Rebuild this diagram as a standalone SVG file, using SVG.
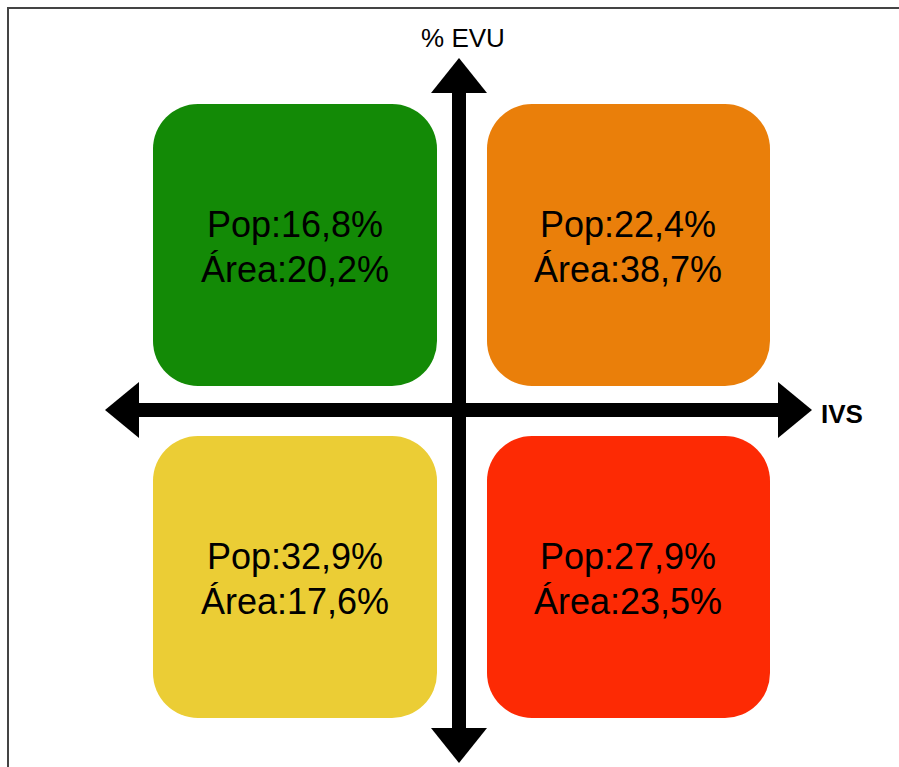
<svg xmlns="http://www.w3.org/2000/svg" width="899" height="767" viewBox="0 0 899 767">
<style>
.box{stroke:none}
.t{font-family:"Liberation Sans",Arial,sans-serif;font-size:36px;fill:#000;text-anchor:middle}
.ax{fill:#000}
.lbl{font-family:"Liberation Sans",Arial,sans-serif;fill:#000}
</style>
<rect x="0" y="0" width="899" height="767" fill="#fff"/>
<rect x="8" y="8" width="1000" height="900" fill="none" stroke="#444" stroke-width="2"/>
<g id="q-green">
<rect class="box" x="153" y="104" width="284" height="282" rx="45" fill="#138a06"/>
<text class="t" x="295" y="237">Pop:16,8%</text>
<text class="t" x="295" y="282">Área:20,2%</text>
</g>
<g id="q-orange">
<rect class="box" x="487" y="104" width="283" height="282" rx="45" fill="#ea7f0a"/>
<text class="t" x="628" y="237">Pop:22,4%</text>
<text class="t" x="628" y="282">Área:38,7%</text>
</g>
<g id="q-yellow">
<rect class="box" x="153" y="436" width="284" height="282" rx="45" fill="#ebcd35"/>
<text class="t" x="295" y="569">Pop:32,9%</text>
<text class="t" x="295" y="614">Área:17,6%</text>
</g>
<g id="q-red">
<rect class="box" x="487" y="436" width="283" height="282" rx="45" fill="#fd2a04"/>
<text class="t" x="628" y="569">Pop:27,9%</text>
<text class="t" x="628" y="614">Área:23,5%</text>
</g>
<g id="connectors">
<rect class="ax" x="452" y="90" width="14" height="641"/>
<polygon class="ax" points="459,58 487,93 431,93"/>
<polygon class="ax" points="459,763 487,728 431,728"/>
<rect class="ax" x="137" y="403" width="643" height="14"/>
<polygon class="ax" points="105,410 139,382 139,438"/>
<polygon class="ax" points="812,410 778,382 778,438"/>
</g>
<g id="labels">
<text class="lbl" x="463" y="47" font-size="26" text-anchor="middle">% EVU</text>
<text class="lbl" x="821" y="423" font-size="26" font-weight="bold">IVS</text>
</g>
</svg>
